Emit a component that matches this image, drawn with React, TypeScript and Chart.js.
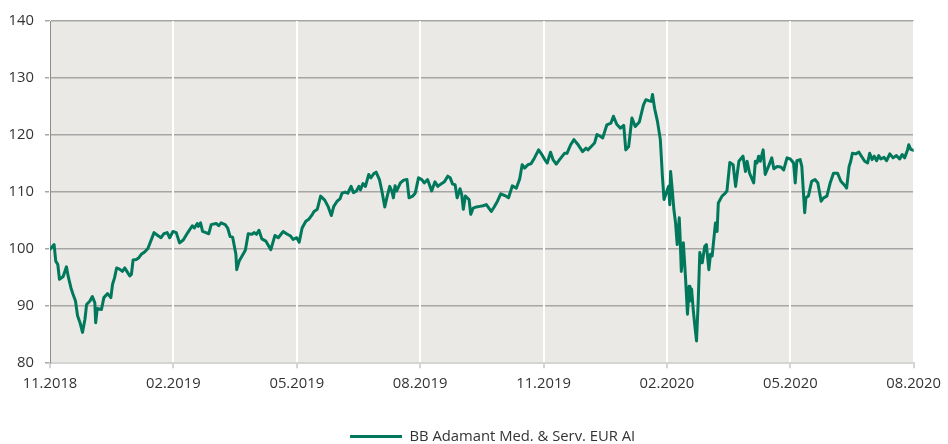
import React, { useEffect, useRef } from "react";
import { Chart, registerables } from "chart.js";

Chart.register(...registerables);

// x positions in months since 01.11.2018
const months: number[] = [
  0.00, 0.10, 0.14, 0.19, 0.23, 0.32, 0.40, 0.44, 0.51, 0.56, 0.62, 0.67, 0.73, 0.79, 0.85, 0.89, 0.97, 1.03, 1.09, 1.11,
  1.15, 1.25, 1.31, 1.40, 1.48, 1.52, 1.57, 1.62, 1.69, 1.76, 1.82, 1.87, 1.94, 1.98, 2.02, 2.10, 2.16, 2.22, 2.30, 2.38,
  2.45, 2.53, 2.62, 2.70, 2.77, 2.85, 2.91, 2.99, 3.07, 3.15, 3.24, 3.35, 3.46, 3.51, 3.58, 3.61, 3.66, 3.71, 3.79, 3.86,
  3.92, 4.04, 4.10, 4.16, 4.26, 4.32, 4.38, 4.44, 4.52, 4.54, 4.60, 4.75, 4.82, 4.91, 4.96, 5.02, 5.08, 5.15, 5.25, 5.37,
  5.47, 5.55, 5.67, 5.75, 5.85, 5.91, 6.00, 6.06, 6.13, 6.22, 6.30, 6.38, 6.42, 6.50, 6.58, 6.68, 6.76, 6.84, 6.90, 6.98,
  7.05, 7.10, 7.18, 7.24, 7.32, 7.38, 7.45, 7.51, 7.55, 7.61, 7.67, 7.75, 7.80, 7.87, 7.93, 8.01, 8.07, 8.14, 8.19, 8.26,
  8.31, 8.35, 8.39, 8.43, 8.52, 8.60, 8.68, 8.73, 8.82, 8.88, 8.96, 9.04, 9.10, 9.18, 9.28, 9.36, 9.43, 9.48, 9.59, 9.67,
  9.73, 9.79, 9.85, 9.90, 9.97, 10.01, 10.05, 10.10, 10.19, 10.23, 10.29, 10.37, 10.45, 10.53, 10.61, 10.68, 10.73, 10.80, 10.88, 10.96,
  11.06, 11.15, 11.24, 11.34, 11.42, 11.48, 11.54, 11.62, 11.70, 11.78, 11.88, 11.94, 12.03, 12.09, 12.17, 12.23, 12.31, 12.39, 12.51, 12.57,
  12.66, 12.74, 12.83, 12.95, 13.03, 13.08, 13.16, 13.24, 13.30, 13.38, 13.44, 13.54, 13.64, 13.70, 13.78, 13.87, 13.95, 14.00, 14.07, 14.15,
  14.23, 14.33, 14.43, 14.49, 14.57, 14.62, 14.65, 14.70, 14.77, 14.84, 14.87, 14.89, 14.93, 15.00, 15.04, 15.07, 15.09, 15.13, 15.17, 15.21,
  15.25, 15.30, 15.32, 15.35, 15.40, 15.45, 15.50, 15.54, 15.56, 15.60, 15.64, 15.68, 15.72, 15.76, 15.80, 15.86, 15.92, 15.96, 16.02, 16.06,
  16.10, 16.18, 16.22, 16.25, 16.34, 16.42, 16.46, 16.53, 16.61, 16.67, 16.75, 16.85, 16.91, 16.95, 17.01, 17.11, 17.15, 17.19, 17.23, 17.27,
  17.34, 17.39, 17.47, 17.55, 17.60, 17.68, 17.77, 17.84, 17.92, 18.00, 18.08, 18.12, 18.16, 18.24, 18.28, 18.35, 18.38, 18.44, 18.52, 18.60,
  18.67, 18.75, 18.81, 18.89, 18.97, 19.05, 19.15, 19.23, 19.33, 19.37, 19.43, 19.47, 19.51, 19.59, 19.67, 19.73, 19.81, 19.88, 19.93, 19.99,
  20.04, 20.10, 20.15, 20.20, 20.28, 20.34, 20.42, 20.50, 20.58, 20.66, 20.72, 20.78, 20.85, 20.88, 20.93, 21.00,
];

const values: number[] = [
  100.0, 100.8, 97.9, 97.3, 94.7, 95.2, 96.9, 95.3, 93.2, 92.1, 90.9, 88.3, 87.1, 85.4, 87.7, 90.3, 90.9, 91.7, 90.6, 87.1,
  89.6, 89.4, 91.5, 92.2, 91.5, 93.8, 95.0, 96.7, 96.5, 96.1, 96.7, 96.1, 95.3, 95.6, 98.1, 98.2, 98.5, 99.1, 99.5, 100.1,
  101.4, 102.9, 102.4, 102.0, 102.7, 102.9, 102.0, 103.1, 102.9, 101.1, 101.6, 102.9, 104.1, 103.7, 104.5, 104.0, 104.6, 103.1, 102.9, 102.7,
  104.3, 104.5, 104.1, 104.6, 104.3, 103.7, 102.2, 102.1, 99.1, 96.4, 97.9, 99.8, 102.7, 102.6, 102.9, 102.6, 103.3, 101.8, 101.4, 99.9,
  102.4, 102.0, 103.1, 102.7, 102.3, 101.7, 102.0, 101.2, 103.7, 104.9, 105.3, 106.1, 106.6, 107.0, 109.3, 108.6, 107.5, 105.9, 107.5, 108.4,
  108.8, 109.8, 110.0, 109.8, 111.0, 109.9, 110.2, 111.0, 110.4, 111.5, 111.0, 113.1, 112.5, 113.2, 113.5, 112.2, 110.2, 107.4, 109.0, 111.0,
  110.2, 109.0, 111.1, 110.2, 111.6, 112.1, 112.2, 109.0, 109.3, 109.8, 112.5, 112.2, 111.6, 112.2, 110.2, 111.8, 111.0, 111.3, 111.8, 112.8,
  112.5, 111.4, 111.3, 109.0, 110.6, 109.6, 107.0, 109.3, 108.7, 106.1, 107.2, 107.4, 107.5, 107.6, 107.8, 107.1, 106.6, 107.4, 108.4, 109.7,
  109.4, 109.0, 111.1, 110.7, 112.3, 114.8, 114.2, 114.8, 115.0, 116.0, 117.4, 116.8, 115.7, 115.1, 117.0, 115.7, 114.9, 115.7, 116.8, 116.8,
  118.3, 119.2, 118.4, 117.1, 117.7, 117.4, 118.0, 118.6, 120.1, 119.8, 119.5, 121.8, 122.1, 123.3, 121.9, 121.2, 121.7, 117.4, 118.0, 123.0,
  121.5, 122.3, 125.3, 126.2, 126.0, 125.9, 127.1, 124.7, 122.4, 119.2, 115.4, 112.8, 108.7, 110.2, 111.0, 107.8, 113.6, 110.4, 106.9, 104.6,
  100.8, 105.5, 102.3, 96.1, 101.1, 95.3, 88.6, 93.5, 90.9, 93.0, 89.4, 86.5, 83.9, 90.6, 99.4, 97.6, 100.5, 100.8, 96.4, 99.1,
  98.8, 104.6, 103.1, 108.1, 109.3, 109.8, 110.2, 115.2, 114.8, 111.0, 115.4, 116.3, 113.6, 115.4, 113.3, 111.6, 115.4, 115.1, 116.3, 115.4,
  117.4, 113.1, 114.5, 116.0, 114.1, 114.5, 114.4, 113.9, 116.0, 115.8, 115.1, 111.6, 115.5, 115.7, 114.5, 106.4, 109.0, 109.3, 111.9, 112.2,
  111.6, 108.4, 109.0, 109.3, 111.6, 113.3, 113.3, 111.9, 111.1, 110.7, 114.5, 115.4, 116.8, 116.7, 117.0, 116.3, 115.4, 115.1, 116.8, 115.7,
  116.3, 115.5, 116.4, 115.8, 116.1, 115.5, 116.7, 116.0, 116.4, 115.8, 116.6, 116.0, 117.4, 118.3, 117.5, 117.3,
];

const tickMonths: number[] = [0, 3, 6, 9, 12, 15, 18, 21];
const tickLabels: string[] = ["11.2018", "02.2019", "05.2019", "08.2019", "11.2019", "02.2020", "05.2020", "08.2020"];
const yTicks: number[] = [80, 90, 100, 110, 120, 130, 140];
const seriesName = "BB Adamant Med. & Serv. EUR AI";

const LINE_COLOR = "#00785c";
const TEXT_COLOR = "#333333";
const FONT = { family: "'Open Sans', sans-serif", size: 14.8 };

const plotBackground = {
  id: "plotBackground",
  beforeDraw(chart: any) {
    const { ctx, chartArea } = chart;
    if (!chartArea) return;
    ctx.save();
    ctx.fillStyle = "#ebe9e6";
    ctx.fillRect(chartArea.left, chartArea.top, chartArea.right - chartArea.left, chartArea.bottom - chartArea.top);
    ctx.restore();
  },
};

const legendShift = {
  id: "legendShift",
  afterLayout(chart: any) {
    const lg = chart.legend;
    if (lg) {
      lg.left += 34;
      lg.right += 34;
      lg.top += 10;
      lg.bottom += 10;
    }
  },
};

export default function App() {
  const ref = useRef<HTMLCanvasElement | null>(null);

  useEffect(() => {
    if (!ref.current) return;
    const data = months.map((m, i) => ({ x: m, y: values[i] }));
    const chart = new Chart(ref.current, {
      type: "line",
      data: {
        datasets: [
          {
            label: seriesName,
            data,
            borderColor: LINE_COLOR,
            backgroundColor: LINE_COLOR,
            borderWidth: 3,
            pointRadius: 0,
            tension: 0,
            fill: false,
            borderJoinStyle: "round",
            borderCapStyle: "round",
          },
        ],
      },
      options: {
        animation: false,
        responsive: false,
        devicePixelRatio: 1,
        layout: { padding: { top: 21, right: 30.7, bottom: 0, left: 0 } },
        font: FONT,
        scales: {
          x: {
            type: "linear",
            min: 0,
            max: 21,
            afterBuildTicks: (scale: any) => {
              scale.ticks = tickMonths.map((v) => ({ value: v }));
            },
            afterFit: (scale: any) => {
              scale.height = 56;
            },
            ticks: {
              autoSkip: false,
              maxRotation: 0,
              padding: 7,
              color: TEXT_COLOR,
              font: FONT,
              callback: (_v: any, i: number) => tickLabels[i],
            },
            grid: {
              color: "#ffffff",
              lineWidth: 2,
              tickColor: "#d4d4d4",
              tickLength: 5,
              z: -1,
            },
            border: { display: true, color: "#d4d4d4", width: 2 },
          },
          y: {
            type: "linear",
            min: 80,
            max: 140,
            afterBuildTicks: (scale: any) => {
              scale.ticks = yTicks.map((v) => ({ value: v }));
            },
            afterFit: (scale: any) => {
              scale.width = 50;
            },
            ticks: {
              padding: 11,
              color: TEXT_COLOR,
              font: FONT,
            },
            grid: {
              color: "#a6a6a6",
              lineWidth: 1.5,
              tickLength: 5,
              z: -2,
            },
            border: { display: true, color: "#8c8c8c", width: 1 },
          },
        },
        plugins: {
          legend: {
            display: true,
            position: "bottom",
            labels: {
              usePointStyle: true,
              pointStyle: "line",
              pointStyleWidth: 52,
              padding: 0,
              color: TEXT_COLOR,
              font: FONT,
            },
          },
          tooltip: { enabled: false },
        },
      },
      plugins: [plotBackground, legendShift],
    } as any);
    return () => chart.destroy();
  }, []);

  return (
    <div style={{ position: "fixed", left: 0, top: 0, width: 948, height: 444, background: "#ffffff" }}>
      <canvas ref={ref} width={948} height={444} />
    </div>
  );
}
